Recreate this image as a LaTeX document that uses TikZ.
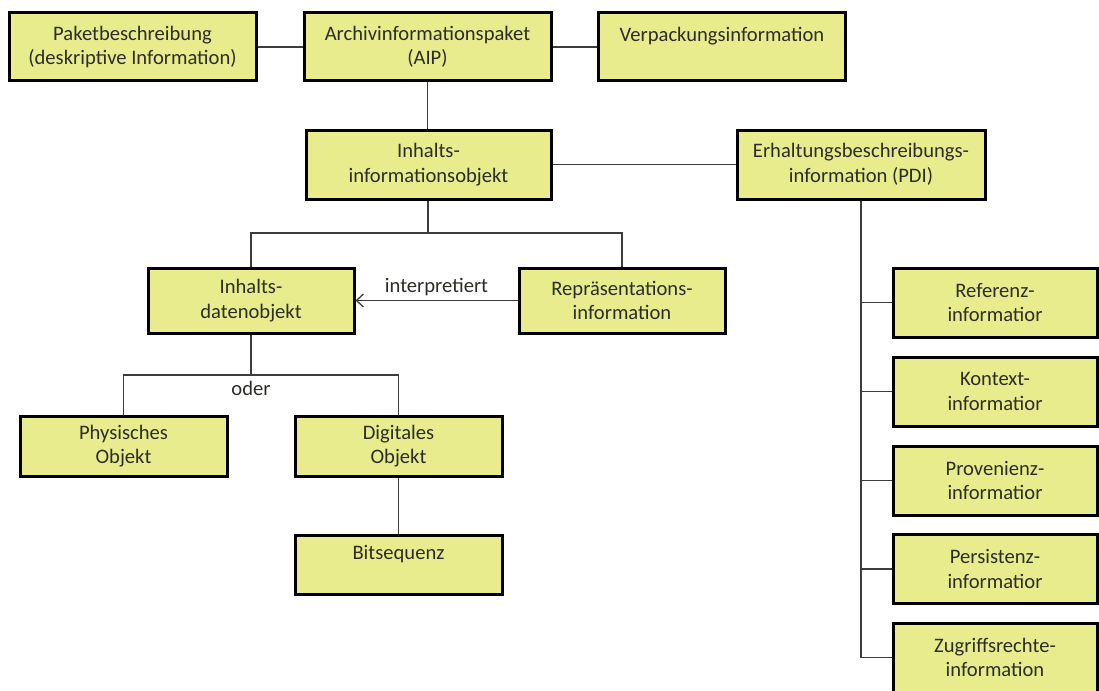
\documentclass[tikz,border=0pt]{standalone}
\usepackage{fontspec}
\setmainfont{Carlito}
\usetikzlibrary{arrows.meta}
\definecolor{boxfill}{RGB}{232,236,140}
\definecolor{txt}{RGB}{45,45,40}
\definecolor{conn}{RGB}{60,60,60}
\begin{document}
\begin{tikzpicture}[x=1pt,y=-1pt,
  box/.style={draw=black, line width=3pt, fill=boxfill, text=txt, align=center,
    inner sep=0pt, font=\fontsize{20.6}{24.5}\selectfont},
  topbox/.style={box, minimum width=247pt, minimum height=68pt},
  midbox/.style={box, minimum width=245pt, minimum height=69pt},
  smallbox/.style={box, minimum width=206pt, minimum height=65pt},
  lowbox/.style={box, minimum width=207pt, minimum height=60pt},
  sidebox/.style={box, minimum width=204pt, minimum height=69pt},
  conn/.style={draw=conn, line width=1.3pt},
  lbl/.style={text=txt, font=\fontsize{20.6}{24.5}\selectfont, inner sep=0pt}]
\useasboundingbox (0,0) rectangle (1099,690);
\fill[white] (0,0) rectangle (1099,690);

% top row
\node[topbox] (paket) at (132.5,47) {Paketbeschreibung\\(deskriptive Information)};
\node[topbox] (aip) at (427.5,47) {Archivinformationspaket\\(AIP)};
\node[topbox] (verp) at (722,47) {Verpackungsinformation\\~};

% second row
\node[midbox] (inhinfo) at (428.5,164.5) {Inhalts-\\informationsobjekt};
\node[box, minimum width=248pt, minimum height=69pt] (erh) at (861,164.5) {Erhaltungsbeschreibungs-\\information (PDI)};

% third row
\node[smallbox] (inhdat) at (251,300.5) {Inhalts-\\datenobjekt};
\node[smallbox] (repr) at (622,300.5) {Repräsentations-\\information};

% fourth row
\node[lowbox] (phys) at (123.5,446) {Physisches\\Objekt};
\node[lowbox] (digi) at (398.5,446) {Digitales\\Objekt};
\node[lowbox, minimum height=59pt] (bits) at (398.5,564.5) {Bitsequenz\\~};

% right column
\node[sidebox] (ref) at (995,302.5) {Referenz-\\informatior};
\node[sidebox] (kon) at (995,391.5) {Kontext-\\informatior};
\node[sidebox] (prov) at (995,480.5) {Provenienz-\\informatior};
\node[sidebox] (pers) at (995,569) {Persistenz-\\informatior};
\node[sidebox] (zug) at (995,657.5) {Zugriffsrechte-\\information};

% connectors
\path[conn] (paket.east) -- (aip.west);
\path[conn] (aip.east) -- (verp.west);
\path[conn] (aip.south) -- (inhinfo.north -| aip.south);
\path[conn] (inhinfo.east) -- (erh.west);

\coordinate (b1) at (428,233);
\path[conn] (inhinfo.south -| b1) -- (b1);
\path[conn] (inhdat.north) |- (b1) -| (repr.north);
\path[conn, -{Straight Barb[length=7pt,width=13pt]}] (repr.west) -- (inhdat.east)
  node[lbl, midway, above=4pt] {interpretiert};

\coordinate (b2) at (251,375);
\path[conn] (inhdat.south) -- (b2);
\path[conn] (phys.north) |- (b2) -| (digi.north);
\node[lbl, below=6pt] (oder) at (b2) {oder};

\path[conn] (digi.south) -- (bits.north);

\path[conn] (erh.south) |- (zug.west);
\path[conn] (ref.west) -- (ref.west -| erh.south);
\path[conn] (kon.west) -- (kon.west -| erh.south);
\path[conn] (prov.west) -- (prov.west -| erh.south);
\path[conn] (pers.west) -- (pers.west -| erh.south);
\end{tikzpicture}
\end{document}
